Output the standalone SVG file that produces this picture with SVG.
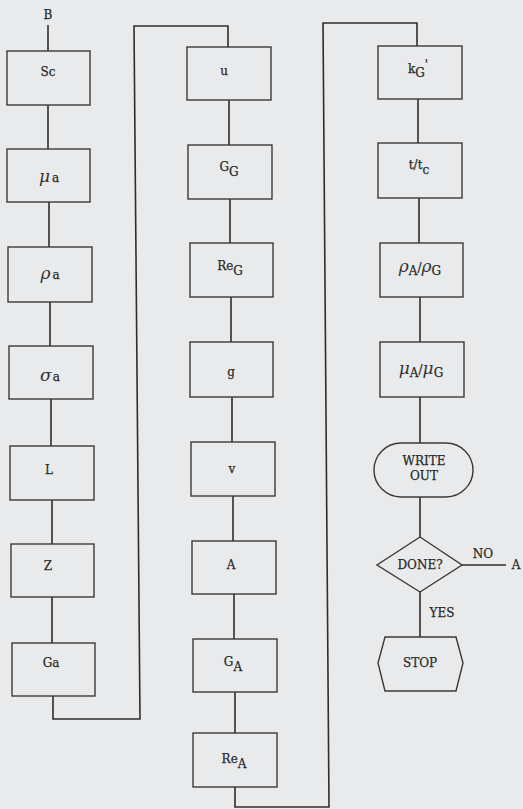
<svg xmlns="http://www.w3.org/2000/svg" width="523" height="809" viewBox="0 0 523 809">
<style>
.bg{fill:#e9eaeb}
.box{fill:none;stroke:#3a3a3a;stroke-width:1.4}
.ln{fill:none;stroke:#2e2e2e;stroke-width:1.6}
.t{font-family:"DejaVu Serif","Liberation Serif",serif;font-size:12px;fill:#2a2a2a;stroke:#2a2a2a;stroke-width:0.25;text-anchor:middle}
.g{font-family:"DejaVu Serif",serif;font-style:italic;font-size:17px;fill:#333;stroke:none}
</style>
<rect class="bg" x="0" y="0" width="523" height="809"/>
<g id="connectors">
  <path class="ln" d="M48,25 V51"/>
  <path class="ln" d="M48,105 V149"/>
  <path class="ln" d="M49,202 V247"/>
  <path class="ln" d="M50,302 V346"/>
  <path class="ln" d="M51,399 V446"/>
  <path class="ln" d="M52,500 V544"/>
  <path class="ln" d="M52,597 V643"/>
  <path class="ln" d="M53,696 V719 H140 L134,26 H228 V47"/>
  <path class="ln" d="M229,100 V145"/>
  <path class="ln" d="M230,199 V243"/>
  <path class="ln" d="M231,297 V342"/>
  <path class="ln" d="M232,397 V442"/>
  <path class="ln" d="M233,496 V541"/>
  <path class="ln" d="M234,594 V639"/>
  <path class="ln" d="M235,692 V733"/>
  <path class="ln" d="M235,787 V807 H329 L323,23 H417 V46"/>
  <path class="ln" d="M418,99 V143"/>
  <path class="ln" d="M419,198 V243"/>
  <path class="ln" d="M420,297 V342"/>
  <path class="ln" d="M420,397 V443"/>
  <path class="ln" d="M420,497 V537"/>
  <path class="ln" d="M462,565 H506"/>
  <path class="ln" d="M420,592 V637"/>
</g>
<g id="B"><text class="t" x="48" y="19">B</text></g>
<g id="Sc"><rect class="box" x="7" y="51" width="83" height="54"/><text class="t" x="48" y="76">Sc</text></g>
<g id="mu_a"><rect class="box" x="7" y="149" width="83" height="53"/><text class="t" x="49" y="182"><tspan class="g">μ</tspan><tspan dx="2">a</tspan></text></g>
<g id="rho_a"><rect class="box" x="8" y="247" width="84" height="55"/><text class="t" x="50" y="279"><tspan class="g">ρ</tspan><tspan dx="2">a</tspan></text></g>
<g id="sigma_a"><rect class="box" x="9" y="346" width="84" height="53"/><text class="t" x="50" y="381"><tspan class="g">σ</tspan><tspan dx="1">a</tspan></text></g>
<g id="L"><rect class="box" x="10" y="446" width="84" height="54"/><text class="t" x="49" y="474">L</text></g>
<g id="Z"><rect class="box" x="11" y="544" width="83" height="53"/><text class="t" x="48" y="570">Z</text></g>
<g id="Ga"><rect class="box" x="12" y="643" width="83" height="53"/><text class="t" x="51" y="667">Ga</text></g>

<g id="u"><rect class="box" x="187" y="47" width="84" height="53"/><text class="t" x="224" y="75">u</text></g>
<g id="G_G"><rect class="box" x="188" y="145" width="84" height="54"/><text class="t" x="229" y="171">G<tspan dy="5">G</tspan></text></g>
<g id="Re_G"><rect class="box" x="190" y="243" width="83" height="54"/><text class="t" x="230" y="270">Re<tspan dy="5">G</tspan></text></g>
<g id="g"><rect class="box" x="190" y="342" width="83" height="55"/><text class="t" x="231" y="376">g</text></g>
<g id="v"><rect class="box" x="191" y="442" width="84" height="54"/><text class="t" x="232" y="473">v</text></g>
<g id="A"><rect class="box" x="192" y="541" width="84" height="53"/><text class="t" x="231" y="569">A</text></g>
<g id="G_A"><rect class="box" x="193" y="639" width="84" height="53"/><text class="t" x="233" y="666">G<tspan dy="5">A</tspan></text></g>
<g id="Re_A"><rect class="box" x="193" y="733" width="84" height="54"/><text class="t" x="234" y="763">Re<tspan dy="5">A</tspan></text></g>

<g id="kG"><rect class="box" x="378" y="46" width="84" height="53"/><text class="t" x="418" y="73">k<tspan dy="4">G</tspan><tspan dy="-8">'</tspan></text></g>
<g id="t_tc"><rect class="box" x="378" y="143" width="84" height="55"/><text class="t" x="419" y="169">t/t<tspan dy="5">c</tspan></text></g>
<g id="rhoA_rhoG"><rect class="box" x="380" y="243" width="83" height="54"/><text class="t" x="420" y="272"><tspan class="g">ρ</tspan><tspan dy="3">A</tspan><tspan dy="-3">/</tspan><tspan class="g">ρ</tspan><tspan dy="3">G</tspan></text></g>
<g id="muA_muG"><rect class="box" x="380" y="342" width="84" height="55"/><text class="t" x="421" y="374"><tspan class="g">μ</tspan><tspan dy="3">A</tspan><tspan dy="-3">/</tspan><tspan class="g">μ</tspan><tspan dy="3">G</tspan></text></g>
<g id="write_out"><rect class="box" x="374" y="443" width="99" height="54" rx="27" ry="27"/><text class="t" x="424" y="465">WRITE</text><text class="t" x="424" y="480">OUT</text></g>
<g id="done"><polygon class="box" points="420,537 462,565 420,592 377,565"/><text class="t" x="420" y="569">DONE?</text></g>
<g id="no"><text class="t" x="483" y="558">NO</text><text class="t" x="516" y="569">A</text></g>
<g id="yes"><text class="t" x="442" y="617">YES</text></g>
<g id="stop"><polygon class="box" points="385,637 456,637 463,663 456,691 385,691 378,663"/><text class="t" x="420" y="667">STOP</text></g>
</svg>
